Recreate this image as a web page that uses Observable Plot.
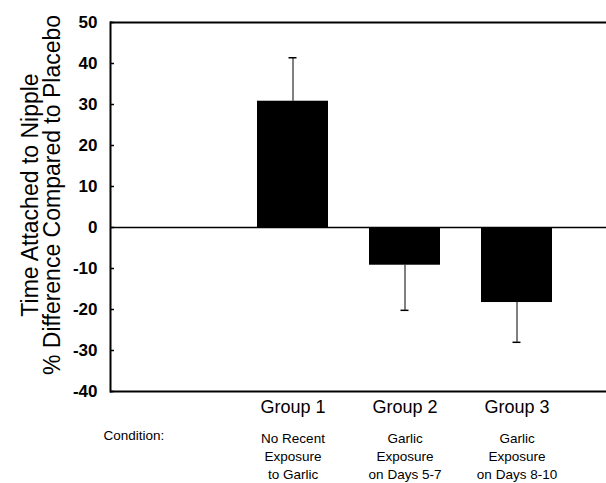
<!DOCTYPE html>
<html><head><meta charset="utf-8">
<script src="https://cdn.jsdelivr.net/npm/d3@7"></script>
<script src="https://cdn.jsdelivr.net/npm/@observablehq/plot@0.6"></script>
<style>body{margin:0;background:#fff} svg{display:block}</style>
</head><body><div id="chart"></div>
<script>
const groups = ["Group 1", "Group 2", "Group 3"];
const conditions = ["No Recent\nExposure\nto Garlic", "Garlic\nExposure\non Days 5-7", "Garlic\nExposure\non Days 8-10"];
const means = [30.8, -9.2, -18.3];
const errorEnds = [41.4, -20.2, -28.0];
const yTicks = [-40, -30, -20, -10, 0, 10, 20, 30, 40, 50];
const yTitle = ["Time Attached to Nipple", "% Difference Compared to Placebo"];
const conditionLabel = "Condition:";

const data = groups.map((g, i) => ({group: g, condition: conditions[i], mean: means[i], err: errorEnds[i]}));

const plot = Plot.plot({
  width: 606, height: 483,
  marginLeft: 110, marginRight: 0, marginTop: 22, marginBottom: 92,
  style: {fontFamily: "'Liberation Sans', Arial, sans-serif", background: "#fff", color: "#000", overflow: "visible"},
  x: {domain: groups, range: [236, 572], paddingInner: 0.37, paddingOuter: 0.185, axis: null},
  y: {domain: [-40, 50], axis: null},
  marks: [
    Plot.barY(data, {x: "group", y: "mean", fill: "#000"}),
    Plot.ruleX(data, {x: "group", y1: "mean", y2: "err", stroke: "#000", strokeWidth: 1}),
    Plot.tickY(data, {x: "group", y: "err", stroke: "#000", strokeWidth: 1.5, insetLeft: 31.5, insetRight: 31.5}),
    Plot.ruleY([0], {stroke: "#000", strokeWidth: 1.5}),
    Plot.ruleY([50, -40], {stroke: "#000", strokeWidth: 2}),
    Plot.frame({anchor: "left", stroke: "#000", strokeWidth: 2}),
    Plot.axisY(yTicks, {tickSize: 0, tickPadding: 13, fontSize: 17, fontWeight: "bold", label: null, tickFormat: d => String(d)}),
    Plot.axisY(yTicks, {tickSize: 4, text: null, dx: 4, strokeWidth: 1.5, label: null}),
    Plot.axisX({tickSize: 0, tickPadding: 9, fontSize: 18, label: null}),
    Plot.text(data, {x: "group", text: "condition", frameAnchor: "bottom", lineAnchor: "top", dy: 39, fontSize: 13.5, lineHeight: 1.33}),
    Plot.text([conditionLabel], {frameAnchor: "bottom-left", textAnchor: "start", lineAnchor: "top", dx: -7, dy: 39, fontSize: 13.5}),
    Plot.text([yTitle[0]], {frameAnchor: "left", textAnchor: "middle", rotate: -90, dx: -80, dy: -12, fontSize: 23}),
    Plot.text([yTitle[1]], {frameAnchor: "left", textAnchor: "middle", rotate: -90, dx: -58, dy: -12, fontSize: 23})
  ]
});
document.getElementById("chart").append(plot);
</script>
</body></html>
